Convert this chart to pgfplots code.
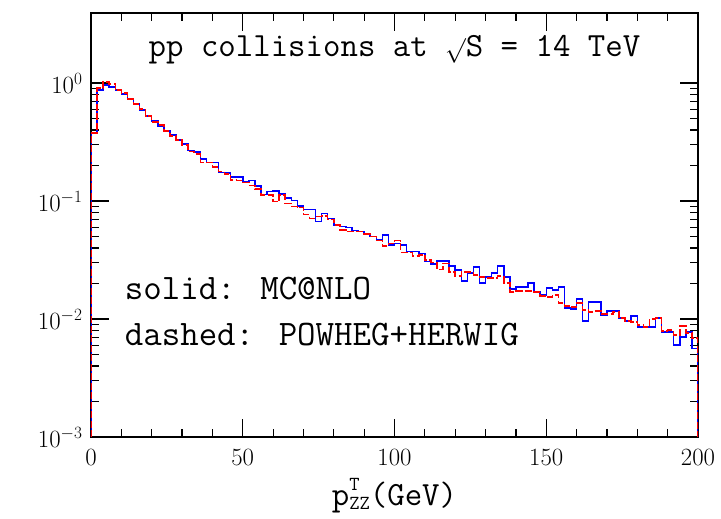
\documentclass[border=0pt]{standalone}
\usepackage{pgfplots}
\usepackage{pgfplotstable}
\pgfplotsset{compat=1.18}
\pgfplotstableread{
x blue red
0 0.001 0.001
0 0.377 0.377
2 0.872 0.907
4 0.962 1.020
6 0.925 0.981
8 0.872 0.872
10 0.807 0.823
12 0.732 0.732
14 0.664 0.664
16 0.590 0.602
18 0.525 0.525
20 0.476 0.467
22 0.432 0.441
24 0.392 0.392
26 0.362 0.355
28 0.329 0.329
30 0.304 0.298
32 0.267 0.262
34 0.260 0.250
36 0.227 0.211
38 0.213 0.213
40 0.213 0.195
42 0.175 0.177
44 0.172 0.169
46 0.159 0.151
48 0.159 0.149
50 0.146 0.144
52 0.149 0.135
54 0.134 0.126
56 0.113 0.112
58 0.120 0.112
60 0.122 0.0987
62 0.115 0.112
64 0.106 0.0956
66 0.1006 0.0895
68 0.0907 0.0877
70 0.0851 0.0772
72 0.0851 0.0714
74 0.0668 0.0736
76 0.0787 0.0746
78 0.0714 0.0700
80 0.0626 0.0626
82 0.0606 0.0568
84 0.0599 0.0549
86 0.0560 0.0549
88 0.0549 0.0549
90 0.0525 0.0525
92 0.0498 0.0498
94 0.0467 0.0461
96 0.0515 0.0416
98 0.0424 0.0438
100 0.0438 0.0461
102 0.0424 0.0365
104 0.0372 0.0365
106 0.0372 0.0342
108 0.0360 0.0349
110 0.0306 0.0316
112 0.0292 0.0300
114 0.0310 0.0264
116 0.0310 0.0296
118 0.0281 0.0250
120 0.0260 0.0231
122 0.0210 0.0250
124 0.0245 0.0250
126 0.0276 0.0236
128 0.0202 0.0227
130 0.0227 0.0223
132 0.0245 0.0223
134 0.0281 0.0231
136 0.0227 0.0202
138 0.0180 0.0169
140 0.0187 0.0173
142 0.0187 0.0173
144 0.0202 0.0173
146 0.0169 0.0169
148 0.0160 0.0157
150 0.0183 0.0154
152 0.0176 0.0160
154 0.0187 0.0137
156 0.0124 0.0129
158 0.0122 0.0126
160 0.0148 0.0137
162 0.00962 0.0119
164 0.0139 0.0115
166 0.0139 0.0117
168 0.0108 0.0110
170 0.0117 0.0110
172 0.0117 0.0115
174 0.0102 0.0102
176 0.00962 0.00962
178 0.0106 0.00943
180 0.00856 0.00890
182 0.00856 0.00856
184 0.00856 0.0100
186 0.0102 0.0102
188 0.00776 0.00791
190 0.00776 0.00807
192 0.00602 0.00732
194 0.00704 0.00873
196 0.00776 0.00761
198 0.00560 0.00690
200 0.001 0.001
}\histdata
\begin{document}
\begin{tikzpicture}
\begin{axis}[
  scale only axis,
  width=607bp, height=424bp,
  xmin=0, xmax=200, ymin=0.001, ymax=3.92,
  ymode=log,
  xtick={0,50,100,150,200},
  minor x tick num=4,
  ytick={0.001,0.01,0.1,1},
  tick align=inside,
  major tick length=18bp,
  minor tick length=8bp,
  tick style={black, line width=1.2bp},
  axis line style={line width=1.6bp},
  xtick pos=both, ytick pos=both,
  ticklabel style={font=\fontsize{25}{30}\selectfont},
  xticklabel style={yshift=-9bp},
  yticklabel style={xshift=-5bp},
  xlabel={\ttfamily\fontsize{34}{40}\selectfont p\makebox[0pt][l]{\raisebox{15bp}{\fontsize{20}{22}\selectfont T}}\raisebox{-4bp}{\fontsize{20}{22}\selectfont ZZ}(GeV)},
  xlabel style={yshift=-6bp},
  clip=true,
]
\addplot[const plot, blue, line width=1.5bp] table[x=x, y=blue] {\histdata};
\addplot[const plot, red, line width=1.5bp, dash pattern=on 7bp off 2.5bp] table[x=x, y=red] {\histdata};
\node[font=\ttfamily\fontsize{34}{40}\selectfont] at (rel axis cs:0.5,0.913) {pp collisions at $\surd$S = 14 TeV};
\node[anchor=west, font=\ttfamily\fontsize{36}{40}\selectfont] at (rel axis cs:0.05,0.351) {solid: MC@NLO};
\node[anchor=west, font=\ttfamily\fontsize{36}{40}\selectfont] at (rel axis cs:0.05,0.241) {dashed: POWHEG+HERWIG};
\end{axis}
\pgfresetboundingbox
\useasboundingbox (-91bp,-82bp) rectangle (630bp,437bp);
\end{tikzpicture}
\end{document}
